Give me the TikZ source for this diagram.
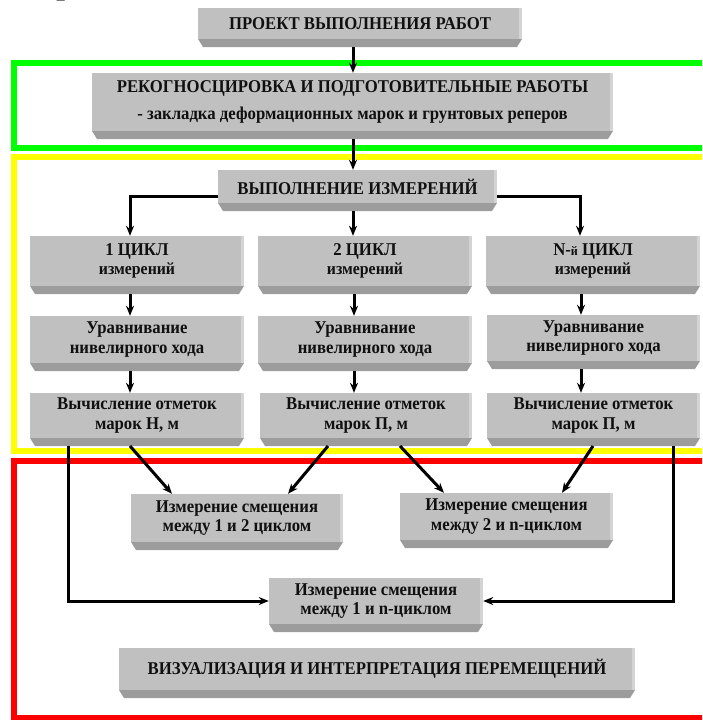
\documentclass[tikz,border=0pt]{standalone}
\usepackage{fontspec}
\setmainfont{Liberation Serif}[FakeStretch=0.93]
\usetikzlibrary{arrows.meta}

\definecolor{facegray}{HTML}{C0C0C0}
\definecolor{bevelgray}{HTML}{9C9C9C}
\definecolor{edgegray}{HTML}{D4D4D4}
\definecolor{frgreen}{HTML}{00FF00}
\definecolor{fryellow}{HTML}{FFFF00}
\definecolor{frred}{HTML}{FF0000}
\definecolor{ink}{HTML}{101010}

\tikzset{
  boxface/.style={rectangle, fill=facegray, inner sep=0pt, align=center,
    text=ink, font=\bfseries\fontsize{18}{19.5}\selectfont},
  frame/.style={line width=6pt},
  conn/.style={line width=3pt, -{Stealth[length=10pt,width=8pt]}},
}

% beveled box: name, x1, y1, x2, y2 (bottom of the face), text
\newcommand\bevbox[6]{%
  \fill[bevelgray] (#2,#5) -- (#4,#5) -- ({#4-5},{#5+8}) -- ({#2+5},{#5+8}) -- cycle;
  \node[boxface, minimum width={(#4-#2)*1pt}, minimum height={(#5-#3)*1pt}]
    (#1) at ({(#2+#4)/2},{(#3+#5)/2}) {#6};
  \fill[edgegray] ({#4-3},#3) rectangle (#4,#5);
  \coordinate (#1-b) at ({(#2+#4)/2},{#5+8});
}
\newcommand\lowline[1]{{\fontsize{17}{19.5}\selectfont #1}}

\begin{document}
\begin{tikzpicture}[x=1pt,y=-1pt]
\clip (0,0) rectangle (702,720);
\useasboundingbox (0,0) rectangle (702,720);

% stage frames, open to the right
\draw[frame, frgreen] (14,63) rectangle (730,148);
\draw[frame, fryellow] (14,157) rectangle (730,451);
\draw[frame, frred] (14,461) rectangle (730,718);

% heading fragment
\node[font=\fontsize{40}{40}\selectfont, anchor=base, inner sep=0pt] (frag) at (66,-7) {р};

% boxes
\bevbox{pr}{198}{8}{522}{39}{ПРОЕКТ ВЫПОЛНЕНИЯ РАБОТ}
\bevbox{rec}{92}{73}{613}{131}{РЕКОГНОСЦИРОВКА И ПОДГОТОВИТЕЛЬНЫЕ РАБОТЫ\\[7pt]
  - закладка деформационных марок и грунтовых реперов}
\bevbox{vyp}{218}{170}{497}{203}{ВЫПОЛНЕНИЕ ИЗМЕРЕНИЙ}

\bevbox{c1}{30}{236}{244}{286}{1 ЦИКЛ\\\lowline{измерений}}
\bevbox{c2}{258}{236}{472}{286}{2 ЦИКЛ\\\lowline{измерений}}
\bevbox{c3}{486}{236}{700}{286}{N-{\fontsize{13}{19}\selectfont й} ЦИКЛ\\\lowline{измерений}}

\bevbox{u1}{30}{316}{244}{363}{Уравнивание\\нивелирного хода}
\bevbox{u2}{258}{316}{472}{363}{Уравнивание\\нивелирного хода}
\bevbox{u3}{487}{315}{700}{361}{Уравнивание\\нивелирного хода}

\bevbox{v1}{30}{393}{244}{438}{Вычисление отметок\\марок Н, м}
\bevbox{v2}{260}{393}{472}{438}{Вычисление отметок\\марок П, м}
\bevbox{v3}{487}{393}{700}{438}{Вычисление отметок\\марок П, м}

\bevbox{m12}{131}{494}{343}{542}{Измерение смещения\\между 1 и 2 циклом}
\bevbox{m2n}{400}{493}{613}{540}{Измерение смещения\\между 2 и n-циклом}
\bevbox{m1n}{269}{578}{483}{624}{Измерение смещения\\между 1 и n-циклом}
\bevbox{viz}{119}{648}{635}{690}{ВИЗУАЛИЗАЦИЯ И ИНТЕРПРЕТАЦИЯ ПЕРЕМЕЩЕНИЙ}

% main axis
\draw[conn] (353,0 |- pr-b) -- (353,0 |- rec.north);
\draw[conn] (353,0 |- rec-b) -- (353,0 |- vyp.north);

% branching to the cycles
\draw[conn] (vyp.west |- 0,196) -| (130,0 |- c1.north);
\draw[conn] (353,0 |- vyp-b) -- (353,0 |- c2.north);
\draw[conn] (vyp.east |- 0,196) -| (580,0 |- c3.north);

% within each cycle
\draw[conn] (130,0 |- c1-b) -- (130,0 |- u1.north);
\draw[conn] (354,0 |- c2-b) -- (354,0 |- u2.north);
\draw[conn] (581,0 |- c3-b) -- (581,0 |- u3.north);
\draw[conn] (130,0 |- u1-b) -- (130,0 |- v1.north);
\draw[conn] (354,0 |- u2-b) -- (354,0 |- v2.north);
\draw[conn] (581,0 |- u3-b) -- (581,0 |- v3.north);

% displacement comparisons
\draw[conn] (130,0 |- v1-b) -- (172,0 |- m12.north);
\draw[conn] (328,0 |- v2-b) -- (288,0 |- m12.north);
\draw[conn] (400,0 |- v2-b) -- (444,0 |- m2n.north);
\draw[conn] (593,0 |- v3-b) -- (562,0 |- m2n.north);
\draw[conn] (68,0 |- v1-b) |- (m1n.west);
\draw[conn] (673,0 |- v3-b) |- (m1n.east);
\end{tikzpicture}
\end{document}
